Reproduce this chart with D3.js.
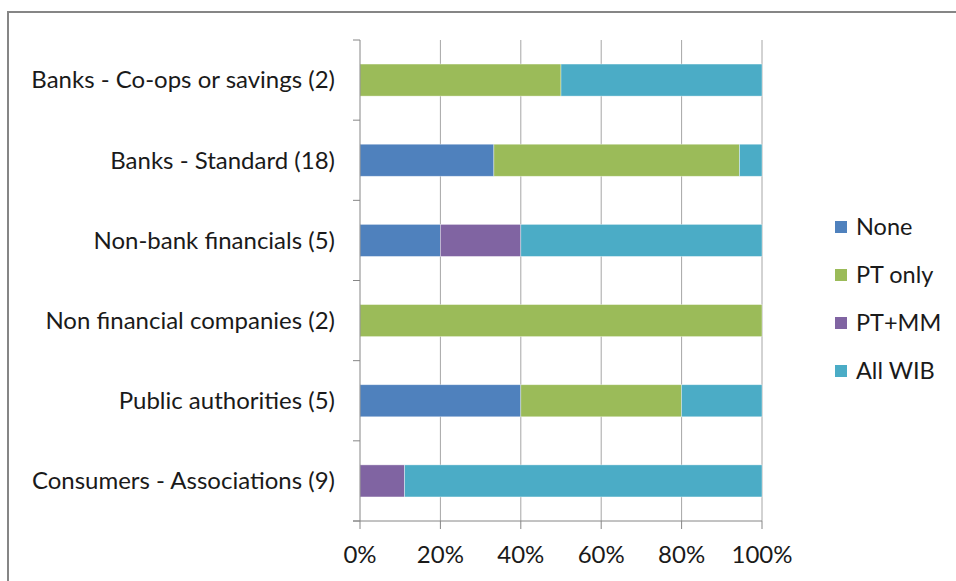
<!DOCTYPE html>
<html><head><meta charset="utf-8">
<script src="https://cdn.jsdelivr.net/npm/d3@7"></script>
<style>body{margin:0;background:#fff;} svg{display:block;font-family:Lato,"Open Sans",sans-serif;}</style>
</head><body>
<svg id="c" width="956" height="581"></svg>
<script>
const categories = ["Banks - Co-ops or savings (2)","Banks - Standard (18)","Non-bank financials (5)","Non financial companies (2)","Public authorities (5)","Consumers - Associations (9)"];
const seriesNames = ["None","PT only","PT+MM","All WIB"];
const seriesColors = ["#4F81BD","#9BBB59","#8064A2","#4BACC6"];
const none   = [0, 33.3, 20, 0, 40, 0];
const ptOnly = [50, 61.1, 0, 100, 40, 0];
const ptMM   = [0, 0, 20, 0, 0, 11.1];
const allWIB = [50, 5.6, 60, 0, 20, 88.9];
const xTicks = [0,20,40,60,80,100];

const svg = d3.select("#c");
svg.append("rect").attr("x",8).attr("y",12).attr("width",1000).attr("height",700)
  .attr("fill","none").attr("stroke","#868686").attr("stroke-width",2);

const L=360, R=762, T=40, B=521;
const x = d3.scaleLinear().domain([0,100]).range([L,R]);
const y = d3.scaleBand().domain(categories).range([T,B]).paddingInner(0.6).paddingOuter(0.3);

// gridlines
svg.append("g").selectAll("line").data(xTicks.slice(1)).join("line")
  .attr("x1",d=>x(d)).attr("x2",d=>x(d)).attr("y1",T).attr("y2",B)
  .attr("stroke","#a6a6a6").attr("stroke-width",1);

const rows = categories.map((c,i)=>({cat:c, None:none[i], "PT only":ptOnly[i], "PT+MM":ptMM[i], "All WIB":allWIB[i]}));
const stack = d3.stack().keys(seriesNames)(rows);
svg.append("g").selectAll("g").data(stack).join("g")
  .attr("fill",(d,i)=>seriesColors[i])
  .selectAll("rect").data(d=>d.filter(v=>v[1]-v[0]>0)).join("rect")
  .attr("x",d=>x(d[0])).attr("width",d=>x(d[1])-x(d[0]))
  .attr("y",d=>y(d.data.cat)).attr("height",y.bandwidth())
  .attr("stroke","#ffffff").attr("stroke-opacity",0.5).attr("stroke-width",0.75);

// y axis
const band = (B-T)/categories.length;
const ya = svg.append("g");
ya.append("line").attr("x1",L).attr("x2",L).attr("y1",T).attr("y2",B).attr("stroke","#868686");
ya.selectAll("line.t").data(d3.range(categories.length+1)).join("line").attr("class","t")
  .attr("x1",L-7).attr("x2",L).attr("y1",i=>T+i*band).attr("y2",i=>T+i*band).attr("stroke","#868686");
ya.selectAll("text").data(categories).join("text")
  .attr("x",335).attr("y",d=>y(d)+y.bandwidth()/2).attr("dy","0.35em")
  .attr("text-anchor","end").attr("font-size",24).attr("fill","#1a1a1a").text(d=>d);

// x axis
const xa = svg.append("g");
xa.append("line").attr("x1",L-7).attr("x2",R).attr("y1",B).attr("y2",B).attr("stroke","#868686");
xa.selectAll("line.t").data(xTicks).join("line").attr("class","t")
  .attr("x1",d=>x(d)).attr("x2",d=>x(d)).attr("y1",B).attr("y2",B+8).attr("stroke","#868686");
xa.selectAll("text").data(xTicks).join("text")
  .attr("x",d=>x(d)).attr("y",555).attr("dy","0.35em").attr("text-anchor","middle")
  .attr("font-size",24).attr("fill","#1a1a1a").text(d=>d+"%");

// legend
const lg = svg.append("g");
seriesNames.forEach((s,i)=>{
  const cy = 227 + i*48;
  lg.append("rect").attr("x",835).attr("y",cy-6).attr("width",12).attr("height",12).attr("fill",seriesColors[i]);
  lg.append("text").attr("x",856).attr("y",cy).attr("dy","0.35em").attr("font-size",23.5).attr("fill","#1a1a1a").text(s);
});
</script>
</body></html>
